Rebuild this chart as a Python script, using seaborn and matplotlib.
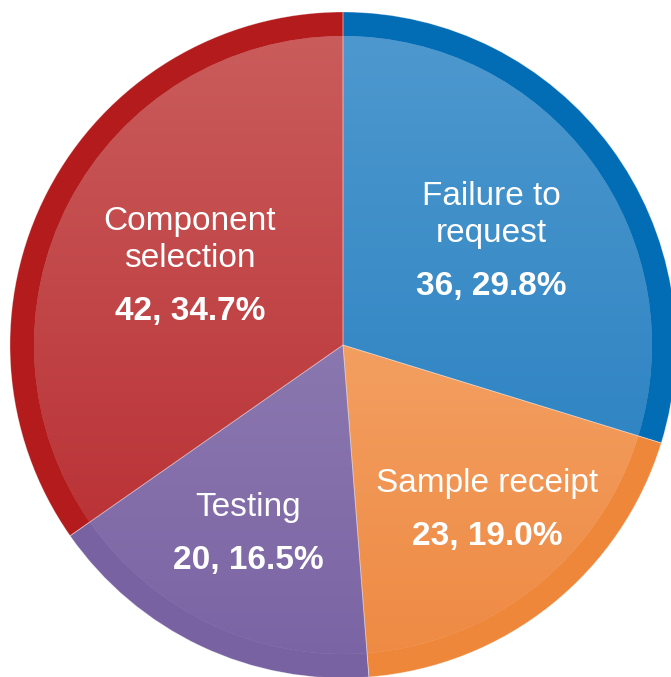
import numpy as np
import matplotlib
matplotlib.use("Agg")
import matplotlib.pyplot as plt
from matplotlib.colors import LinearSegmentedColormap
import seaborn as sns

# data, clockwise from 12 o'clock
categories = ["Failure to\nrequest", "Sample receipt", "Testing", "Component\nselection"]
counts = [36, 23, 20, 42]
percents = [29.8, 19.0, 16.5, 34.7]

# styling
ring_colors = ["#026cb4", "#ef873b", "#7862a1", "#b31b1c"]
top_colors = ["#4f99cf", "#f8b47f", "#9c8cbc", "#cb5e5e"]
bottom_colors = ["#1f7abd", "#ee8942", "#7a63a3", "#b5262b"]
label_r = [0.515, 0.655, 0.633, 0.495]
label_shift = [-6.2, 2.6, -1.5, 5.8]

sns.set_style("white")
plt.rcParams["font.family"] = ["Liberation Sans", "DejaVu Sans"]

fig = plt.figure(figsize=(6.71, 6.77), dpi=100)
ax = fig.add_axes([0, 0, 1, 1])
ax.axis("off")

# outer darker ring
ax.pie(counts, colors=ring_colors, startangle=90, counterclock=False,
       radius=1.0, wedgeprops=dict(linewidth=0))

# inner lighter wedges with vertical gradient
inner, _ = ax.pie(counts, colors=top_colors, startangle=90, counterclock=False,
                  radius=0.928, wedgeprops=dict(linewidth=0))
grad = np.linspace(1, 0, 256).reshape(-1, 1)
for w, c_top, c_bot in zip(inner, top_colors, bottom_colors):
    cmap = LinearSegmentedColormap.from_list("g", [c_bot, c_top])
    im = ax.imshow(grad, cmap=cmap, extent=[-1, 1, -1, 1], aspect="auto",
                   origin="upper", zorder=w.get_zorder() + 0.1,
                   interpolation="bicubic", vmin=0, vmax=1)
    im.set_clip_path(w)

# faint separators between slices
sep, _ = ax.pie(counts, colors=["none"] * 4, startangle=90, counterclock=False,
                radius=1.0, wedgeprops=dict(linewidth=0.6, edgecolor=(1, 1, 1, 0.35),
                                            fill=False))
for s in sep:
    s.set_zorder(5)

# labels
total = sum(counts)
start = 90.0
for i, (cat, n, p) in enumerate(zip(categories, counts, percents)):
    span = n / total * 360
    mid = start - span / 2
    start -= span
    a = np.deg2rad(mid + label_shift[i])
    x, y = label_r[i] * np.cos(a), label_r[i] * np.sin(a)
    ax.annotate(cat, (x, y), xytext=(0, 10), textcoords="offset pixels",
                ha="center", va="bottom", color="white", fontsize=24,
                linespacing=1.25, zorder=6)
    ax.annotate(f"{n}, {p:.1f}%", (x, y), xytext=(0, -12), textcoords="offset pixels",
                ha="center", va="top", color="white", fontsize=24,
                fontweight="bold", zorder=6)

# place pie centre at ~(343, 345) px with radius ~333 px
ax.set_xlim(-343 / 333, (671 - 343) / 333)
ax.set_ylim(-(677 - 345) / 333, 345 / 333)
ax.set_aspect("auto")

plt.savefig("out.png", dpi=100)
